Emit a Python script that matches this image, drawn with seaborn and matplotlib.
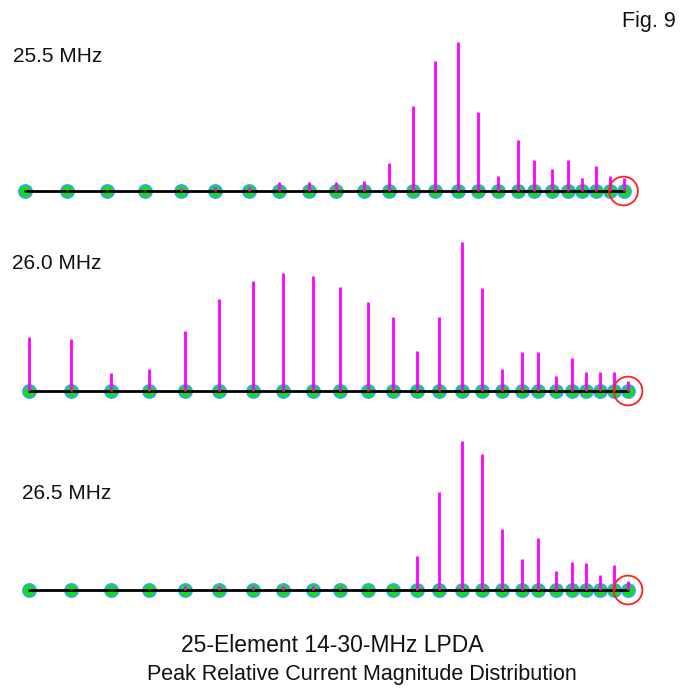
"""
25-element LPDA: peak relative current magnitude on each element
at three frequencies (stem plot along the boom).
"""

import numpy as np
import pandas as pd
import matplotlib
matplotlib.use("Agg")
import matplotlib.pyplot as plt
import seaborn as sns

sns.set_style("white")
plt.rcParams['font.family'] = ['Liberation Sans', 'DejaVu Sans']

# element positions along the boom (arbitrary units, rear element = 0)
element_pos = [0, 42, 82, 120, 156, 190, 224, 254, 284, 311, 339, 364, 388,
               410, 433, 453, 473, 493, 509, 527, 543, 557, 571, 585, 599]

# relative current magnitude per element (1.0 = strongest element)
cur_255 = [0.01, 0.01, 0.01, 0.01, 0.02, 0.03, 0.03, 0.06, 0.06, 0.06, 0.07,
           0.19, 0.57, 0.87, 1.00, 0.53, 0.10, 0.34, 0.21, 0.15, 0.21, 0.09,
           0.17, 0.10, 0.09]
cur_260 = [0.36, 0.35, 0.12, 0.15, 0.40, 0.62, 0.74, 0.79, 0.77, 0.70, 0.60,
           0.50, 0.27, 0.50, 1.00, 0.69, 0.15, 0.26, 0.26, 0.10, 0.22, 0.13,
           0.13, 0.13, 0.07]
cur_265 = [0.01, 0.01, 0.00, 0.01, 0.03, 0.03, 0.03, 0.03, 0.03, 0.02, 0.01,
           0.01, 0.23, 0.66, 1.00, 0.91, 0.41, 0.21, 0.35, 0.13, 0.19, 0.18,
           0.10, 0.17, 0.06]

freq_labels = ["25.5 MHz", "26.0 MHz", "26.5 MHz"]
title_1 = "25-Element 14-30-MHz LPDA"
title_2 = "Peak Relative Current Magnitude Distribution"

W, H = 684, 688
fig = plt.figure(figsize=(W / 100, H / 100), dpi=100)

# panel layout in pixels: baseline y, left offset of element 0, label pos
panels = [
    dict(cur=cur_255, base=191, x0=24.5, lab=(13, 62)),
    dict(cur=cur_260, base=391, x0=29, lab=(12, 269)),
    dict(cur=cur_265, base=590, x0=29, lab=(22, 499)),
]
full = 149.0  # pixels for 1.0
above, below = 175, 25

for p, label in zip(panels, freq_labels):
    df = pd.DataFrame({"pos": element_pos, "current": p["cur"]})
    ax = fig.add_axes([0, 1 - (p["base"] + below) / H, 1, (above + below) / H])
    ax.set_xlim(-p["x0"], W - p["x0"])
    ax.set_ylim(-below / full, above / full)
    ax.axis("off")

    sns.scatterplot(data=df, x="pos", y=0 * df["current"], ax=ax, s=90,
                    color="#10e010", edgecolor="#3aa0ff", linewidth=1.2,
                    zorder=2, legend=False)
    sns.lineplot(data=df, x="pos", y=0 * df["current"], ax=ax, color="black",
                 linewidth=2, zorder=3, legend=False)
    ax.vlines(df["pos"], 0, df["current"], color="#ff00ff", linewidth=2,
              zorder=4)
    # mark the front (shortest) element
    ax.scatter(df["pos"].iloc[-1], 0, s=430, facecolor="none",
               edgecolor="#ff2020", linewidth=1.3, zorder=5)

    fig.text(p["lab"][0] / W, 1 - p["lab"][1] / H, label, fontsize=15,
             ha="left", va="baseline", color="#111111")

fig.text(622 / W, 1 - 27 / H, "Fig. 9", fontsize=15.5, ha="left",
         va="baseline", color="#111111")
fig.text(332 / W, 1 - 652 / H, title_1, fontsize=16.5, ha="center",
         va="baseline", color="#111111")
fig.text(362 / W, 1 - 680 / H, title_2, fontsize=15.5, ha="center",
         va="baseline", color="#111111")

fig.savefig("out.png", dpi=100, facecolor="white")
plt.close(fig)
